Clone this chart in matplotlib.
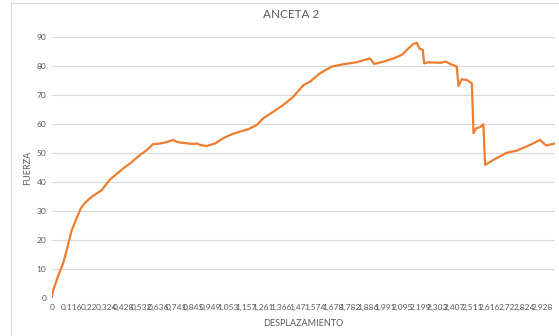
import numpy as np
import matplotlib.pyplot as plt
from matplotlib.lines import Line2D

# ensayo de traccion, probeta 2
desplazamiento = [0, 0.002, 0.008, 0.036, 0.067, 0.090, 0.118, 0.147, 0.173, 0.197,
                  0.237, 0.297, 0.347, 0.426, 0.466, 0.526, 0.566, 0.605, 0.636, 0.676,
                  0.725, 0.745, 0.765, 0.845, 0.865, 0.885, 0.925, 0.975, 1.023, 1.076,
                  1.124, 1.173, 1.224, 1.263, 1.322, 1.383, 1.442, 1.502, 1.542, 1.602,
                  1.672, 1.741, 1.821, 1.881, 1.900, 1.925, 1.981, 2.040, 2.090, 2.130,
                  2.159, 2.180, 2.195, 2.216, 2.224, 2.249, 2.319, 2.355, 2.379, 2.419,
                  2.429, 2.448, 2.479, 2.509, 2.519, 2.534, 2.558, 2.578, 2.588, 2.638,
                  2.718, 2.777, 2.857, 2.917, 2.953, 3.006]
fuerza = [0, 1.5, 2.8, 7.5, 12, 17, 23.4, 27.5, 31, 32.8,
          34.9, 37.2, 40.9, 44.7, 46.4, 49.3, 51, 53.1, 53.2, 53.6,
          54.5, 53.9, 53.6, 53.1, 53.3, 52.8, 52.4, 53.3, 55.1, 56.5,
          57.4, 58.2, 59.7, 62, 64.2, 66.6, 69.4, 73.4, 74.6, 77.5,
          79.8, 80.6, 81.3, 82.3, 82.6, 80.7, 81.5, 82.6, 83.8, 86.1,
          87.6, 88.0, 86.1, 85.5, 80.9, 81.3, 81.1, 81.5, 80.7, 79.8,
          73.1, 75.4, 75.2, 74.0, 56.8, 58.5, 58.9, 59.9, 45.9, 47.6,
          50.1, 50.8, 52.8, 54.5, 52.6, 53.3]

etiquetas_x = ['0', '0,116', '0,22', '0,324', '0,428', '0,532', '0,636', '0,741',
               '0,845', '0,949', '1,053', '1,157', '1,261', '1,366', '1,47', '1,574',
               '1,678', '1,782', '1,886', '1,991', '2,095', '2,199', '2,303', '2,407',
               '2,511', '2,616', '2,72', '2,824', '2,928']
valores_x = [float(e.replace(',', '.')) for e in etiquetas_x]

gris = '#595959'
plt.rcParams['font.family'] = ['Lato', 'DejaVu Sans']

fig = plt.figure(figsize=(5.59, 3.36), dpi=100)
ax = fig.add_axes([52 / 559, 38 / 336, 503 / 559, 261 / 336])

ax.plot(desplazamiento, fuerza, color='#ED7D31', lw=1.6, solid_joinstyle='round')

ax.set_xlim(0, desplazamiento[-1])
ax.set_ylim(0, 90)
ax.set_yticks(range(0, 91, 10))
ax.set_xticks(valores_x)
ax.set_xticklabels(etiquetas_x)
ax.tick_params(length=0, labelsize=6, labelcolor=gris, pad=4)
ax.grid(axis='y', color='#d9d9d9', lw=0.8)
ax.set_axisbelow(True)
for s in ax.spines.values():
    s.set_visible(False)

# el titulo va centrado en todo el grafico, no en el area de trazado
fig.text(291 / 559, 1 - 14 / 336, 'ANCETA 2', fontsize=8.5, color=gris,
         ha='center', va='center')
ax.set_xlabel('DESPLAZAMIENTO', fontsize=6.5, color=gris, labelpad=6)
ax.set_ylabel('FUERZA', fontsize=6.5, color=gris, labelpad=3)

# borde del area del grafico
fig.add_artist(Line2D([11 / 559, 11 / 559], [0, 333 / 336], color='#d9d9d9', lw=0.8))
fig.add_artist(Line2D([11 / 559, 1], [333 / 336, 333 / 336], color='#d9d9d9', lw=0.8))

fig.savefig('out.png', dpi=100)
